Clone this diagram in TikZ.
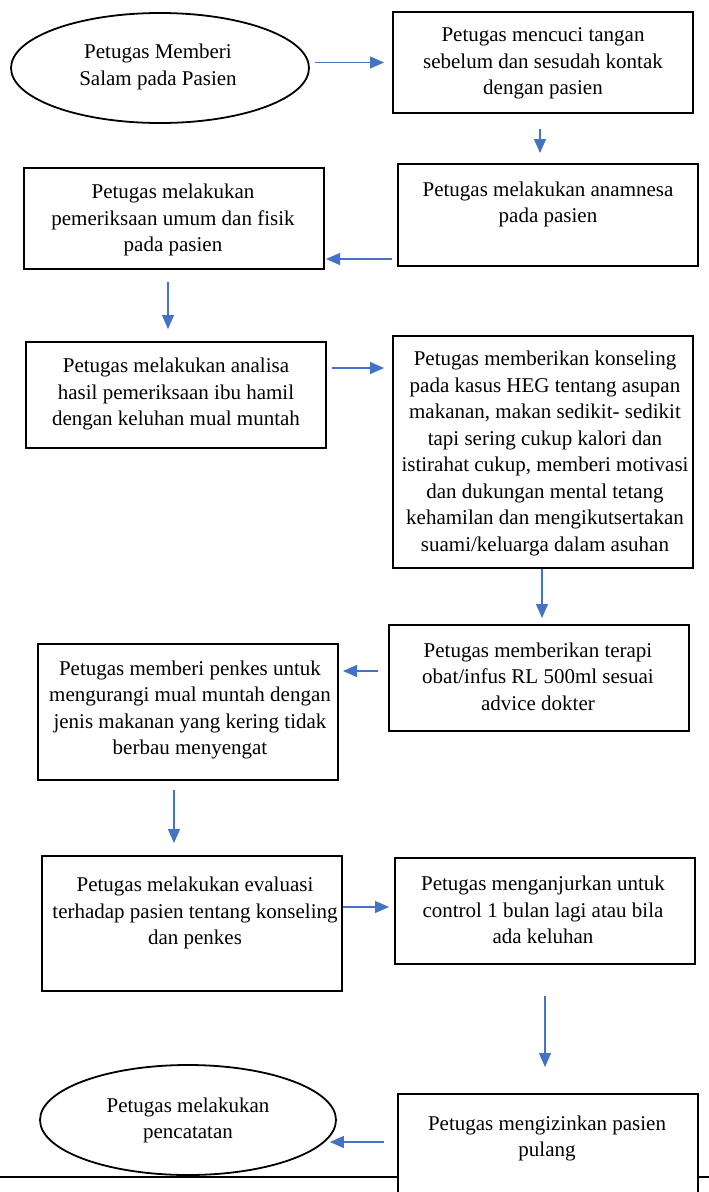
\documentclass[tikz,border=0pt]{standalone}
\usepackage{fontspec}
\setmainfont{Liberation Serif}
\usetikzlibrary{shapes.geometric,arrows.meta,calc}
\definecolor{arrblue}{HTML}{4472C4}
\begin{document}
\begin{tikzpicture}[x=1pt,y=-1pt,
  box/.style={draw=black,line width=2pt,fill=white,rectangle,inner sep=0pt},
  oval/.style={draw=black,line width=1.8pt,fill=white,ellipse,inner sep=0pt},
  txt/.style={align=center,inner sep=0pt,font=\fontsize{21}{26.5}\selectfont},
  arr/.style={draw=arrblue,line width=1.2pt,-{Triangle[length=14pt,width=12pt]}}]
\useasboundingbox (0,0) rectangle (709,1192);
\draw[line width=2pt] (0,1177) -- (709,1177);
% shapes
\node[oval,minimum width=298pt,minimum height=110pt] (e1) at (160,68) {};
\node[box,minimum width=300pt,minimum height=101pt] (b1) at (543,62.5) {};
\node[box,minimum width=300pt,minimum height=102pt] (b2) at (548,215) {};
\node[box,minimum width=300pt,minimum height=101pt] (b3) at (174,218.5) {};
\node[box,minimum width=300pt,minimum height=106pt] (b4) at (176,395) {};
\node[box,minimum width=300pt,minimum height=232pt] (b5) at (543,452) {};
\node[box,minimum width=300pt,minimum height=106pt] (b6) at (539,678) {};
\node[box,minimum width=300pt,minimum height=136pt] (b7) at (188,712) {};
\node[box,minimum width=300pt,minimum height=135pt] (b8) at (192,923.5) {};
\node[box,minimum width=300pt,minimum height=106pt] (b9) at (545,911) {};
\node[box,minimum width=300pt,minimum height=116pt] (b10) at (548,1152) {};
\node[oval,minimum width=296pt,minimum height=110pt] (e2) at (188,1120) {};
% texts
\node[txt] (te1) at (158,67) {Petugas Memberi\\Salam pada Pasien};
\node[txt] (tb1) at (543,63.5) {Petugas mencuci tangan\\sebelum dan sesudah kontak\\dengan pasien};
\node[txt] (tb2) at (548,204.5) {Petugas melakukan anamnesa\\pada pasien};
\node[txt] (tb3) at (173,220) {Petugas melakukan\\pemeriksaan umum dan fisik\\pada pasien};
\node[txt] (tb4) at (176,394) {Petugas melakukan analisa\\hasil pemeriksaan ibu hamil\\dengan keluhan mual muntah};
\node[txt] (tb5) at (545,453.5) {Petugas memberikan konseling\\pada kasus HEG tentang asupan\\makanan, makan sedikit- sedikit\\tapi sering cukup kalori dan\\istirahat cukup, memberi motivasi\\dan dukungan mental tetang\\kehamilan dan mengikutsertakan\\suami/keluarga dalam asuhan};
\node[txt] (tb6) at (538,676.5) {Petugas memberikan terapi\\obat/infus RL 500ml sesuai\\advice dokter};
\node[txt] (tb7) at (190,710) {Petugas memberi penkes untuk\\mengurangi mual muntah dengan\\jenis makanan yang kering tidak\\berbau menyengat};
\node[txt] (tb8) at (195,913) {Petugas melakukan evaluasi\\terhadap pasien tentang konseling\\dan penkes};
\node[txt] (tb9) at (543,910) {Petugas menganjurkan untuk\\control 1 bulan lagi atau bila\\ada keluhan};
\node[txt] (tb10) at (547,1138.5) {Petugas mengizinkan pasien\\pulang};
\node[txt] (te2) at (188,1120.5) {Petugas melakukan\\pencatatan};
% connectors
\draw[arr,shorten <=5pt,shorten >=8pt] (e1.east |- b1.west) -- (b1.west);
\draw[arr,shorten <=15pt,shorten >=10pt] ([xshift=-3pt]b1.south) -- ([xshift=-3pt]b1.south |- b2.north);
\draw[arr,shorten <=5pt,shorten >=1pt] ([yshift=-44pt]b2.west) -- ([yshift=-44pt]b2.west -| b3.east);
\draw[arr,shorten <=12pt,shorten >=12pt] ([xshift=-6pt]b3.south) -- ([xshift=-6pt]b3.south |- b4.north);
\draw[arr,shorten <=5pt,shorten >=8pt] ([yshift=27pt]b4.east) -- ([yshift=27pt]b4.east -| b5.west);
\draw[arr,shorten >=6pt] ([xshift=-1pt]b5.south) -- ([xshift=-1pt]b5.south |- b6.north);
\draw[arr,shorten <=10pt,shorten >=4pt] ([yshift=7pt]b6.west) -- ([yshift=7pt]b6.west -| b7.east);
\draw[arr,shorten <=9pt,shorten >=12pt] ([xshift=-14pt]b7.south) -- ([xshift=-14pt]b7.south |- b8.north);
\draw[arr,shorten <=0pt,shorten >=5pt] ([yshift=16.5pt]b8.east) -- ([yshift=16.5pt]b8.east -| b9.west);
\draw[arr,shorten <=31pt,shorten >=26pt] (b9.south) -- (b9.south |- b10.north);
\draw[arr,shorten <=13pt,shorten >=-7pt] ([yshift=10pt]b10.west) -- ([yshift=10pt]b10.west -| e2.east);
\end{tikzpicture}
\end{document}
